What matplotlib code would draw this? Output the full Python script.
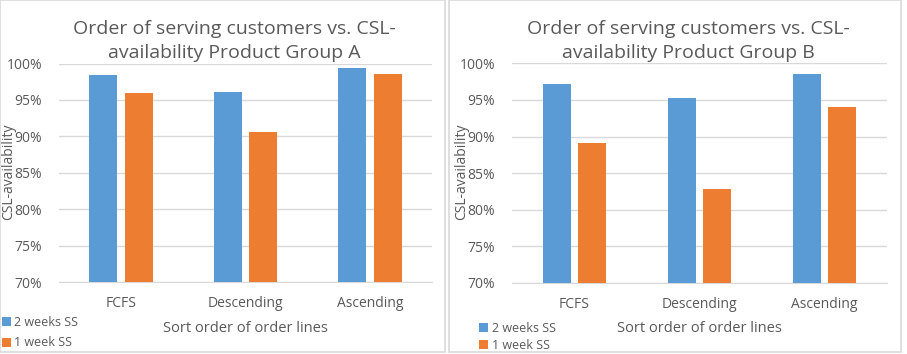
import matplotlib
matplotlib.use("Agg")
import matplotlib.pyplot as plt
from matplotlib.patches import Rectangle
from matplotlib.ticker import PercentFormatter

# Dados
categorias = ["FCFS", "Descending", "Ascending"]
series = ["2 weeks SS", "1 week SS"]
grupo_a_2sem = [0.984, 0.961, 0.994]
grupo_a_1sem = [0.960, 0.906, 0.986]
grupo_b_2sem = [0.972, 0.953, 0.986]
grupo_b_1sem = [0.891, 0.829, 0.940]
titulos = ["Order of serving customers vs. CSL-\navailability Product Group A",
           "Order of serving customers vs. CSL-\navailability Product Group B"]

azul = "#5B9BD5"
laranja = "#ED7D31"
cinza_texto = "#595959"
cinza_grade = "#D9D9D9"

plt.rcParams["font.family"] = ["Open Sans", "DejaVu Sans"]

fig = plt.figure(figsize=(9.07, 3.54), dpi=100)
W, H = 907, 354

def fx(x):
    return x / W

def fy(y):
    return 1 - y / H

# Molduras dos dois gráficos
for x0, x1 in [(0, 445), (449, 901)]:
    fig.patches.append(Rectangle((fx(x0), fy(352)), fx(x1 - x0), (352 - 0) / H,
                                 transform=fig.transFigure, fill=False,
                                 edgecolor="#D9D9D9", linewidth=1.2))

# Posição dos eixos em pixels: (esquerda, topo, direita, base)
posicoes = [(59, 63.5, 432, 282), (512, 63.3, 887, 283)]
dados = [(grupo_a_2sem, grupo_a_1sem), (grupo_b_2sem, grupo_b_1sem)]
legendas = [(2, 316, 0.6), (479, 322, 0.3)]

x = range(len(categorias))
largura = 0.225
desloc = 0.143

for i, ((l, t, r, b), (s2, s1)) in enumerate(zip(posicoes, dados)):
    ax = fig.add_axes([fx(l), fy(b), (r - l) / W, (b - t) / H])
    ax.bar([k - desloc for k in x], [v - 0.70 for v in s2], largura, bottom=0.70,
           color=azul, label=series[0], zorder=3)
    ax.bar([k + desloc for k in x], [v - 0.70 for v in s1], largura, bottom=0.70,
           color=laranja, label=series[1], zorder=3)
    ax.set_xlim(-0.5, 2.5)
    ax.set_ylim(0.70, 1.00)
    ax.set_yticks([0.70, 0.75, 0.80, 0.85, 0.90, 0.95, 1.00])
    ax.yaxis.set_major_formatter(PercentFormatter(1.0, decimals=0))
    ax.set_xticks(list(x))
    ax.set_xticklabels(categorias)
    ax.grid(axis="y", color=cinza_grade, linewidth=1, zorder=0)
    for s in ["top", "right", "left"]:
        ax.spines[s].set_visible(False)
    ax.spines["bottom"].set_color(cinza_grade)
    ax.tick_params(axis="both", length=0, labelsize=10, colors=cinza_texto)
    ax.tick_params(axis="y", pad=12)
    ax.tick_params(axis="x", pad=10)

    centro = (l + r) / 2 - 11
    fig.text(fx(centro), fy(41), titulos[i], ha="center", va="center",
             fontsize=14, color=cinza_texto, linespacing=1.45)
    fig.text(fx(l - 50), fy(172), "CSL-availability", rotation=90,
             ha="center", va="center", fontsize=10, color=cinza_texto)
    fig.text(fx((l + r) / 2), fy(328), "Sort order of order lines",
             ha="center", va="center", fontsize=10.5, color=cinza_texto)

    lx, ly, esp = legendas[i]
    ax.legend(loc="upper left", bbox_to_anchor=(fx(lx), fy(ly)),
              bbox_transform=fig.transFigure, frameon=False, fontsize=9,
              labelcolor=cinza_texto, handlelength=0.7, handleheight=0.7,
              handletextpad=0.3, labelspacing=esp, borderpad=0, borderaxespad=0)

fig.savefig("out.png", dpi=100)
